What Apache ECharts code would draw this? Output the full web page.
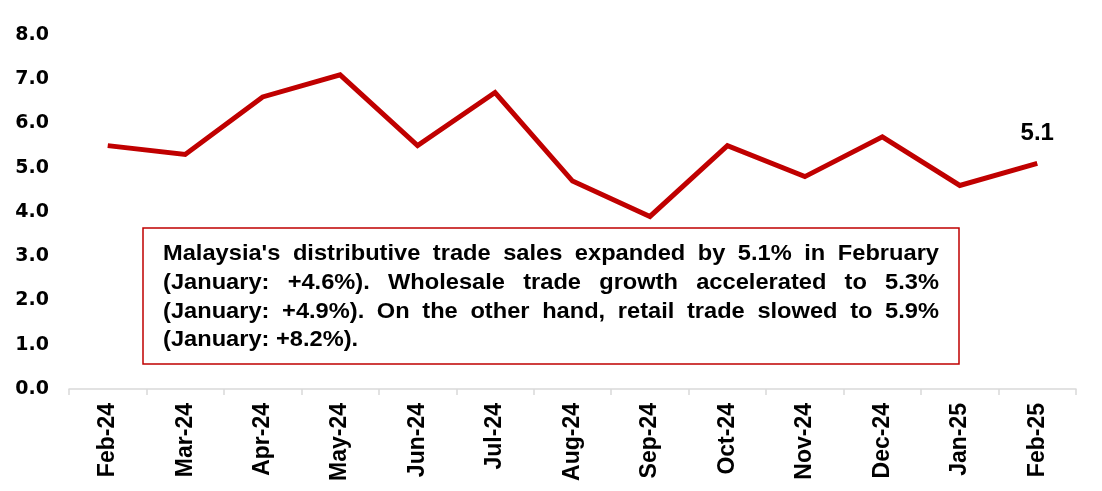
<!DOCTYPE html>
<html>
<head>
<meta charset="utf-8">
<script src="https://cdn.jsdelivr.net/npm/echarts@6/dist/echarts.min.js"></script>
<style>
  html, body { margin: 0; padding: 0; background: #fff; }
  #chart { width: 1102px; height: 491px; }
</style>
</head>
<body>
<div id="chart"></div>
<script>
// months and growth (%, yoy)
var months = ['Feb-24', 'Mar-24', 'Apr-24', 'May-24', 'Jun-24', 'Jul-24', 'Aug-24',
  'Sep-24', 'Oct-24', 'Nov-24', 'Dec-24', 'Jan-25', 'Feb-25'];
var growth = [5.5, 5.3, 6.6, 7.1, 5.5, 6.7, 4.7, 3.9, 5.5, 4.8, 5.7, 4.6, 5.1];
var noteLines = [
  "Malaysia's distributive trade sales expanded by 5.1% in February",
  "(January: +4.6%). Wholesale trade growth accelerated to 5.3%",
  "(January: +4.9%). On the other hand, retail trade slowed to 5.9%",
  "(January: +8.2%)."
];

var FONT = '"Liberation Sans", Arial, sans-serif';
var chart = echarts.init(document.getElementById('chart'));

// justified note text, one text element per word
var NOTE_FONT = 'bold 21.5px ' + FONT;
var NOTE_SX = 1.1;
var measureCtx = document.createElement('canvas').getContext('2d');
measureCtx.font = NOTE_FONT;
function noteGraphics() {
  var left = 163, right = 939, top = 254, step = 28.8;
  var els = [{
    type: 'rect',
    shape: { x: 143, y: 228, width: 816, height: 136 },
    style: { fill: '#fff', stroke: '#c00000', lineWidth: 1.5 },
    z: 10
  }];
  for (var i = 0; i < noteLines.length; i++) {
    var words = noteLines[i].split(' ');
    var widths = words.map(function (w) { return measureCtx.measureText(w).width * NOTE_SX; });
    var total = widths.reduce(function (a, b) { return a + b; }, 0);
    var last = i === noteLines.length - 1;
    var gap = last ? measureCtx.measureText(' ').width * NOTE_SX
      : Math.max(2, (right - left - total) / (words.length - 1));
    var x = left;
    for (var j = 0; j < words.length; j++) {
      els.push({
        type: 'text', x: x, y: top + i * step, z: 11,
        scaleX: NOTE_SX,
        style: { text: words[j], font: NOTE_FONT, fill: '#000',
          textAlign: 'left', textVerticalAlign: 'middle' }
      });
      x += widths[j] + gap;
    }
  }
  return els;
}

var option = {
  backgroundColor: '#fff',
  animation: false,
  grid: { left: 69, right: 26, top: 35, bottom: 102 },
  xAxis: {
    type: 'category',
    data: months,
    boundaryGap: true,
    axisLine: { lineStyle: { color: '#d9d9d9', width: 1.5 } },
    axisTick: { show: true, length: 6, lineStyle: { color: '#d9d9d9', width: 1.5 } },
    axisLabel: { rotate: 90, margin: 14, color: '#000', fontWeight: 'bold',
      fontSize: 23, fontFamily: FONT }
  },
  yAxis: {
    type: 'value',
    min: 0, max: 8, interval: 1,
    axisLine: { show: false },
    axisTick: { show: false },
    splitLine: { show: false },
    axisLabel: { margin: 20, color: '#000', fontWeight: 'bold', fontSize: 19,
      fontFamily: '"DejaVu Sans", sans-serif',
      formatter: function (v) { return v.toFixed(1); } }
  },
  series: [{
    type: 'line',
    data: growth.map(function (v, i) {
      if (i === growth.length - 1) {
        return { value: v, label: { show: true, position: 'top', distance: 18,
          formatter: function (p) { return p.value.toFixed(1); },
          color: '#000', fontWeight: 'bold', fontSize: 24, fontFamily: FONT } };
      }
      return v;
    }),
    symbol: 'circle',
    symbolSize: 0,
    showAllSymbol: true,
    lineStyle: { color: '#c00000', width: 5, join: 'miter' },
    itemStyle: { color: '#c00000' }
  }],
  graphic: noteGraphics()
};
chart.setOption(option);
</script>
</body>
</html>
